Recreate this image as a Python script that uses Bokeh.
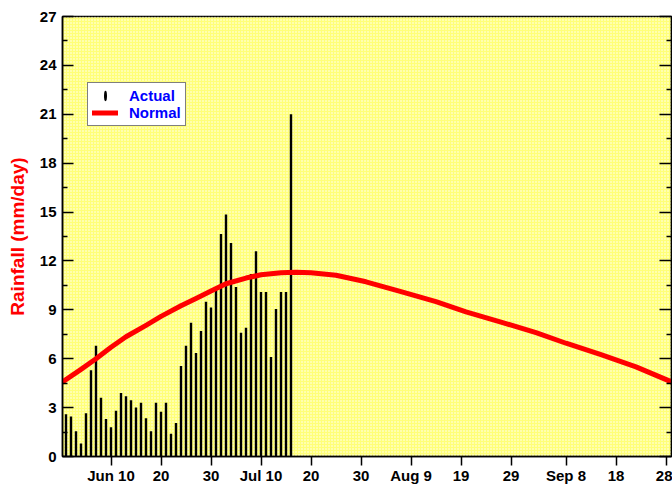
import math
from bokeh.plotting import figure
from bokeh.models import (Range1d, LinearAxis, FixedTicker, BoxAnnotation,
                          Legend, LegendItem, ColumnDataSource)
from bokeh.embed import file_html
from bokeh.resources import INLINE

# ---------------- data ----------------
# day index: Jun 1 = 1
bar_days = list(range(1, 47))
actual_mm = [2.6, 2.45, 1.55, 0.8, 2.65, 5.3, 6.8, 3.6, 2.3, 1.8,
             2.8, 3.9, 3.7, 3.45, 3.0, 3.3, 2.35, 1.55, 3.3, 2.75,
             3.3, 1.4, 2.05, 5.55, 6.8, 8.2, 6.35, 7.7, 9.5, 9.15,
             10.2, 13.65, 14.85, 13.1, 10.4, 7.6, 7.9, 11.2, 12.6, 10.1,
             10.1, 6.1, 9.05, 10.1, 10.1, 21.0]

normal_days = [0.3, 4, 7, 10, 13, 17, 20, 24, 27, 30, 33, 37, 40, 44, 47,
               50, 55, 61, 68, 75, 81, 88, 95, 101, 108, 115, 122.1]
normal_mm = [4.58, 5.35, 6.0, 6.7, 7.35, 8.05, 8.6, 9.25, 9.7, 10.15, 10.6,
             10.95, 11.15, 11.27, 11.3, 11.28, 11.12, 10.72, 10.12, 9.5,
             8.88, 8.25, 7.6, 6.95, 6.25, 5.5, 4.58]

x_tick_days = [10, 20, 30, 40, 50, 60, 70, 80, 90, 101, 111, 121]
x_tick_labels = ["Jun 10", "20", "30", "Jul 10", "20", "30", "Aug 9",
                 "19", "29", "Sep 8", "18", "28"]
y_ticks = [0, 3, 6, 9, 12, 15, 18, 21, 24, 27]
y_minor = [1.5, 4.5, 7.5, 10.5, 13.5, 16.5, 19.5, 22.5, 25.5]

FONT = "Liberation Sans"

p = figure(width=672, height=486, output_backend="svg", toolbar_location=None,
           x_range=Range1d(0.3, 122.1), y_range=Range1d(0, 27),
           min_border_left=62, min_border_right=1, min_border_top=16,
           min_border_bottom=27,
           background_fill_color="#FFFF78", border_fill_color="white")
p.xgrid.visible = False
p.ygrid.visible = False
p.outline_line_color = "black"
p.outline_line_width = 1.5

# stippled background
p.add_layout(BoxAnnotation(fill_alpha=0, line_alpha=0, hatch_pattern="dot",
                           hatch_color="white", hatch_scale=3,
                           hatch_weight=1.3, level="underlay"))

# legend glyph source for "Actual": a thin upright ellipse hidden inside the
# last (tallest) bar; its legend swatch keeps its aspect -> a vertical stroke
key_src = ColumnDataSource(dict(x=bar_days[-1:], y=[actual_mm[-1] / 2]))
key_r = p.ellipse("x", "y", source=key_src, width=2.0, height=7.0,
                  width_units="screen", height_units="screen",
                  fill_color="black", line_color=None)

# bars
src = ColumnDataSource(dict(x=bar_days, top=actual_mm))
p.vbar(x="x", top="top", bottom=0, width=0.48, source=src,
       fill_color="black", line_color=None)

# normal curve
line_r = p.line(normal_days, normal_mm, line_color="#FF0000", line_width=5,
                line_join="round", line_cap="round")

# axes
yl = p.yaxis[0]
yl.ticker = FixedTicker(ticks=y_ticks, minor_ticks=y_minor)
yl.major_tick_in = 11
yl.major_tick_out = 0
yl.minor_tick_in = 5
yl.minor_tick_out = 0
yl.axis_line_width = 1.5
yl.major_tick_line_width = 1.5
yl.minor_tick_line_width = 1.5
yl.major_label_standoff = 6
yl.major_label_text_font = FONT
yl.major_label_text_font_style = "bold"
yl.major_label_text_font_size = "15px"
yl.major_label_text_color = "black"
yl.axis_label = "Rainfall (mm/day)"
yl.axis_label_text_color = "#FF0000"
yl.axis_label_text_font = FONT
yl.axis_label_text_font_style = "bold"
yl.axis_label_text_font_size = "19px"
yl.axis_label_standoff = 9

yr = LinearAxis(ticker=FixedTicker(ticks=y_ticks, minor_ticks=y_minor),
                major_tick_in=12, major_tick_out=0,
                minor_tick_in=5, minor_tick_out=0,
                axis_line_width=1.5, major_tick_line_width=1.5,
                minor_tick_line_width=1.5,
                major_label_text_color=None,
                major_label_text_font_size="1px", major_label_standoff=0)
p.add_layout(yr, "right")

xb = p.xaxis[0]
xb.ticker = FixedTicker(ticks=x_tick_days, minor_ticks=[])
xb.major_label_overrides = {d: lab for d, lab in zip(x_tick_days, x_tick_labels)}
xb.major_tick_in = 0
xb.major_tick_out = 9
xb.minor_tick_line_color = None
xb.axis_line_width = 1.5
xb.major_tick_line_width = 1.5
xb.major_label_standoff = 1
xb.major_label_text_font = FONT
xb.major_label_text_font_style = "bold"
xb.major_label_text_font_size = "15px"
xb.major_label_text_color = "black"

legend = Legend(items=[LegendItem(label="Actual", renderers=[key_r]),
                       LegendItem(label="Normal", renderers=[line_r])],
                location=(25, 330), margin=0, padding=4, spacing=0,
                glyph_width=26, glyph_height=13, label_height=17,
                label_standoff=11,
                label_text_color="#0000FF", label_text_font=FONT,
                label_text_font_style="bold", label_text_font_size="15px",
                border_line_color="black", border_line_width=1.5,
                background_fill_color="white", background_fill_alpha=1)
p.add_layout(legend)

open("out.html", "w").write(file_html(p, INLINE))
